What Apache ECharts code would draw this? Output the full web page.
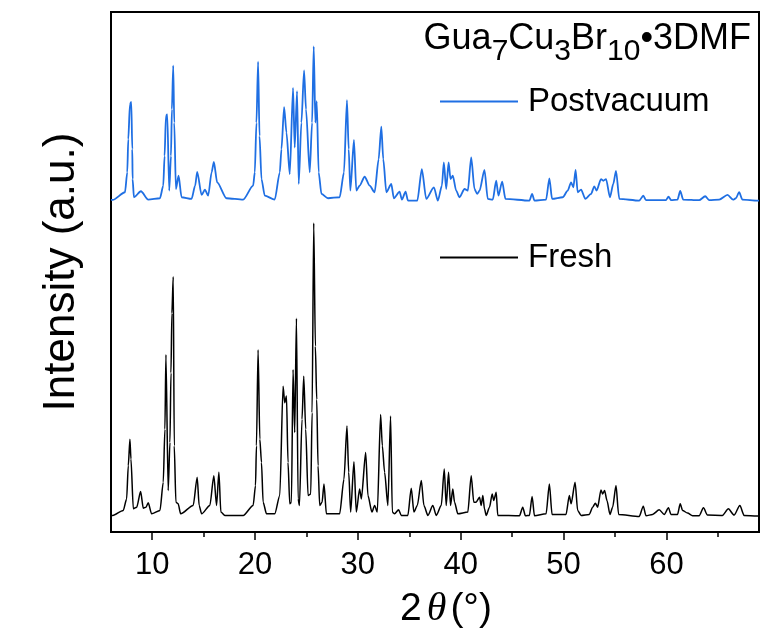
<!DOCTYPE html>
<html>
<head>
<meta charset="utf-8">
<script src="https://cdn.jsdelivr.net/npm/echarts@6/dist/echarts.min.js"></script>
<style>
  html, body { margin: 0; padding: 0; background: #fff; }
  #chart { width: 777px; height: 634px; }
</style>
</head>
<body>
<div id="chart"></div>
<script>
// 2theta / intensity (a.u.) pairs
const postvacuum = [
  [6.0, 334], [6.17, 334], [7.36, 341.7], [7.58, 361.7], [7.68, 395], [7.84, 430], [7.97, 432.7], [8.07, 385],
  [8.1, 355], [8.23, 336.7],
  [8.91, 342.7], [9.62, 334.3], [10.76, 335.7], [11.08, 348.3], [11.21, 378.3], [11.34, 418.3], [11.47, 420], [11.66, 343.3],
  [11.83, 378.3], [11.92, 425], [12.05, 469], [12.15, 411.7], [12.31, 345], [12.57, 358.3], [12.86, 336.7],
  [13.83, 335], [14.18, 348.3], [14.38, 362.3], [14.81, 339], [15.13, 344.3], [15.45, 338.3], [15.78, 361.7],
  [16.0, 372.3], [16.32, 351.7], [17.23, 335.7], [18.85, 334.3], [19.82, 348.3], [19.98, 361.7], [20.14, 411.7], [20.3, 473],
  [20.44, 398.3], [20.63, 355], [20.95, 338.3], [21.92, 334.3], [22.41, 361.7], [22.57, 385], [22.83, 427.3], [23.06, 401.7],
  [23.38, 360], [23.7, 446.7], [23.86, 386.7], [24.09, 443.3], [24.25, 350], [24.51, 411.7], [24.77, 464.3],
  [24.96, 425], [25.32, 361.7], [25.55, 411.7], [25.71, 488.3], [25.87, 411.7], [26.0, 433.3], [26.19, 361.7],
  [26.46, 340], [27.1, 335.7], [28.23, 336.7], [28.65, 361.7], [28.94, 434.3], [29.11, 385], [29.27, 343.3],
  [29.62, 394.3], [29.85, 343.3], [30.17, 348.3], [30.66, 357.3], [31.15, 348.3], [31.63, 341.7], [32.02, 375],
  [32.28, 407.7], [32.47, 375], [32.77, 341.7], [33.25, 350], [33.5, 335.7], [34.06, 342.3], [34.28, 334.3],
  [34.64, 342.3], [34.87, 333.3], [35.78, 333.3], [36.22, 365], [36.65, 335], [37.39, 346.7], [37.78, 333.3],
  [38.17, 348.3], [38.36, 371.7], [38.59, 345], [38.82, 371.7], [39.01, 355], [39.23, 358.3], [39.56, 343.3],
  [39.88, 336.7], [40.37, 345], [40.69, 343.3], [41.02, 376.7], [41.34, 345], [41.6, 340], [41.83, 343.3],
  [42.31, 364.3], [42.63, 335], [43.12, 334.3], [43.45, 353.3], [43.67, 338.3], [44.03, 352.3], [44.35, 335],
  [46.68, 333.3], [46.94, 340], [47.17, 333.3], [48.3, 334.3], [48.62, 355.7], [48.88, 335], [49.92, 336.7],
  [50.4, 343.3], [50.73, 351.7], [50.95, 346.7], [51.17, 364.3], [51.37, 341.7], [51.7, 344.3], [52.12, 335],
  [52.67, 340], [52.99, 347.7], [53.21, 343.3], [53.64, 355], [53.86, 353.3], [54.13, 355], [54.51, 336.7],
  [54.83, 350], [55.1, 363.3], [55.42, 335], [57.36, 333.3], [57.75, 338.3], [58.01, 333.7], [59.95, 333.7],
  [60.2, 337.3], [60.47, 333.7], [61.08, 334.3], [61.34, 343], [61.63, 334.3], [63.18, 333.7], [63.77, 337.7],
  [64.17, 333.7], [65.13, 334.3], [65.94, 339], [66.49, 334.3], [66.75, 335.7], [67.07, 341.7], [67.39, 334.3],
  [68.84, 333.3], [69, 333.3]
];

const fresh = [
  [6.0, 16.5], [6.17, 16.7], [7.19, 21.7], [7.52, 33.3], [7.68, 66.7], [7.84, 93.3], [7.94, 73.3], [8.17, 23.3], [8.5, 25],
  [8.88, 40.7], [9.14, 24], [9.4, 25], [9.62, 29.3], [9.95, 18.3], [10.76, 21.7], [11.08, 50], [11.24, 103.3], [11.34, 178.3],
  [11.56, 41.7], [11.73, 90], [11.83, 160], [11.92, 220], [12.05, 256.7], [12.15, 86.7], [12.31, 30], [12.53, 28.3],
  [12.77, 18.3], [13.99, 26.7], [14.38, 55], [14.57, 26.7], [14.81, 18.3], [15.61, 26.7], [16.0, 56.7],
  [16.26, 26.7], [16.49, 60], [16.68, 20], [17.07, 16.7], [18.85, 16.7], [19.82, 26.7], [20.05, 46.7], [20.14, 86.7],
  [20.3, 183.3], [20.47, 93.3], [20.63, 70], [20.79, 30], [21.12, 18.3], [21.92, 18.3], [22.41, 36.7],
  [22.73, 146.7], [22.89, 130], [23.06, 136.7], [23.21, 70], [23.38, 28.3], [23.54, 30], [23.7, 163.3],
  [23.86, 100], [24.03, 215], [24.19, 33.3], [24.32, 26.7], [24.57, 113.3], [24.74, 156.7], [24.93, 103.3],
  [25.16, 36.7], [25.42, 38.3], [25.55, 120], [25.71, 310.7], [25.87, 186.7], [26.0, 133.3], [26.13, 66.7],
  [26.29, 26.7], [26.52, 30], [26.71, 48.3], [26.94, 18.3], [28.23, 18.3], [28.65, 53.3], [28.94, 106.7],
  [29.11, 60], [29.3, 20], [29.62, 70.7], [29.85, 20], [30.17, 43.3], [30.34, 33.3], [30.76, 80], [30.98, 36.7],
  [31.37, 20], [31.63, 26.7], [31.89, 20], [32.21, 118.3], [32.38, 86.7], [32.6, 60], [32.92, 26.7],
  [33.18, 116.7], [33.35, 20], [33.57, 18.3], [33.96, 22.3], [34.22, 16.7], [34.86, 16.7], [35.19, 44],
  [35.45, 20], [35.78, 26.7], [36.17, 51.7], [36.42, 26.7], [36.81, 16.7], [37.29, 26.7], [37.62, 16.7],
  [38.11, 26.7], [38.4, 63.3], [38.59, 26.7], [38.82, 60], [39.01, 26.7], [39.23, 43.3], [39.4, 30],
  [39.72, 18.3], [40.69, 20], [41.02, 56.7], [41.27, 30], [41.5, 30], [41.83, 35], [41.99, 26.7], [42.15, 36.7],
  [42.31, 23.3], [42.48, 16.7], [42.8, 25], [43.06, 38.3], [43.21, 31.7], [43.45, 40], [43.6, 16.7],
  [45.71, 16.3], [46.03, 25], [46.29, 16.3], [46.68, 16.7], [46.94, 35.7], [47.17, 16.3], [48.3, 18.3],
  [48.62, 48.3], [48.88, 17.7], [50.24, 17.7], [50.56, 36.7], [50.73, 28.3], [51.12, 50], [51.37, 21.7],
  [51.7, 16.7], [52.5, 17.7], [52.83, 25], [53.09, 29], [53.31, 25], [53.64, 42.3], [53.8, 38.3], [53.99, 41.7],
  [54.22, 31.7], [54.51, 17.7], [54.77, 25], [55.1, 46.7], [55.35, 17.7], [57.36, 15.7], [57.75, 26],
  [58.01, 16.3], [58.65, 17.7], [59.3, 22.3], [59.79, 17.7], [60.2, 24.3], [60.44, 17.7], [61.08, 17.7],
  [61.34, 28.3], [61.57, 21.7], [62.05, 19], [62.54, 16.3], [63.18, 16.3], [63.6, 24.3], [63.99, 17],
  [65.44, 16.7], [66.02, 23.3], [66.58, 17], [67.14, 26.7], [67.55, 16.7], [68.79, 16], [69, 16]
];

const majorTicks = [10, 20, 30, 40, 50, 60];
const minorTicks = [15, 25, 35, 45, 55, 65];

const chart = echarts.init(document.getElementById('chart'));

const legendText = { fontFamily: 'Liberation Sans', fontSize: 33, color: '#000', padding: [0, 0, 0, 5] };

const option = {
  animation: false,
  backgroundColor: '#fff',
  title: {
    text: '{n|Gua}{s|7}{n|Cu}{s|3}{n|Br}{s|10}{n|•3DMF}',
    right: 26,
    top: 21,
    padding: 0,
    textStyle: {
      fontWeight: 'normal',
      rich: {
        n: { fontFamily: 'Liberation Sans', fontWeight: 'normal', fontSize: 36, color: '#000', lineHeight: 36, verticalAlign: 'top' },
        s: { fontFamily: 'Liberation Sans', fontWeight: 'normal', fontSize: 30, color: '#000', lineHeight: 30, verticalAlign: 'top', padding: [16, 0, 0, 0] }
      }
    }
  },
  legend: [
    {
      data: ['Postvacuum'],
      left: 440,
      top: 85,
      padding: 0,
      icon: 'rect',
      itemWidth: 78,
      itemHeight: 2,
      textStyle: legendText
    },
    {
      data: ['Fresh'],
      left: 440,
      top: 241,
      padding: 0,
      icon: 'rect',
      itemWidth: 78,
      itemHeight: 2,
      textStyle: legendText
    }
  ],
  grid: {
    left: 111,
    right: 18,
    top: 12,
    bottom: 99,
    show: true,
    borderColor: '#000',
    borderWidth: 2
  },
  xAxis: [
    {
      type: 'value',
      min: 6,
      max: 69,
      position: 'bottom',
      name: '{a|2}{b|θ}{a|(°)}',
      nameLocation: 'middle',
      nameGap: 57,
      nameTextStyle: {
        padding: [0, 0, 0, 22],
        rich: {
          a: { fontFamily: 'Liberation Sans', fontSize: 39, color: '#000' },
          b: { fontFamily: 'Liberation Serif', fontStyle: 'italic', fontSize: 40, color: '#000', padding: [0, 4, 0, 5] }
        }
      },
      splitLine: { show: false },
      axisLine: { lineStyle: { color: '#000', width: 2 } },
      axisTick: { customValues: majorTicks, length: 8, lineStyle: { color: '#000', width: 1.5 } },
      axisLabel: {
        customValues: majorTicks,
        margin: 18,
        fontFamily: 'Liberation Sans',
        fontSize: 31,
        color: '#000'
      }
    },
    {
      type: 'value',
      min: 6,
      max: 69,
      position: 'bottom',
      splitLine: { show: false },
      axisLine: { show: false },
      axisTick: { customValues: minorTicks, length: 5, lineStyle: { color: '#000', width: 1.5 } },
      axisLabel: { show: false }
    }
  ],
  yAxis: {
    type: 'value',
    min: 0,
    max: 523,
    name: 'Intensity (a.u.)',
    nameLocation: 'middle',
    nameGap: 27,
    nameTextStyle: { fontFamily: 'Liberation Sans', fontSize: 44, color: '#000' },
    splitLine: { show: false },
    axisLine: { show: true, lineStyle: { color: '#000', width: 2 } },
    axisTick: { show: false },
    axisLabel: { show: false }
  },
  series: [
    {
      name: 'Postvacuum',
      type: 'line',
      symbol: 'none',
      smooth: 0.25,
      smoothMonotone: 'x',
      data: postvacuum,
      lineStyle: { color: '#1f6fe3', width: 1.8 },
      itemStyle: { color: '#1f6fe3' }
    },
    {
      name: 'Fresh',
      type: 'line',
      symbol: 'none',
      smooth: 0.25,
      smoothMonotone: 'x',
      data: fresh,
      lineStyle: { color: '#000', width: 1.5 },
      itemStyle: { color: '#000' }
    }
  ]
};

chart.setOption(option);
</script>
</body>
</html>
